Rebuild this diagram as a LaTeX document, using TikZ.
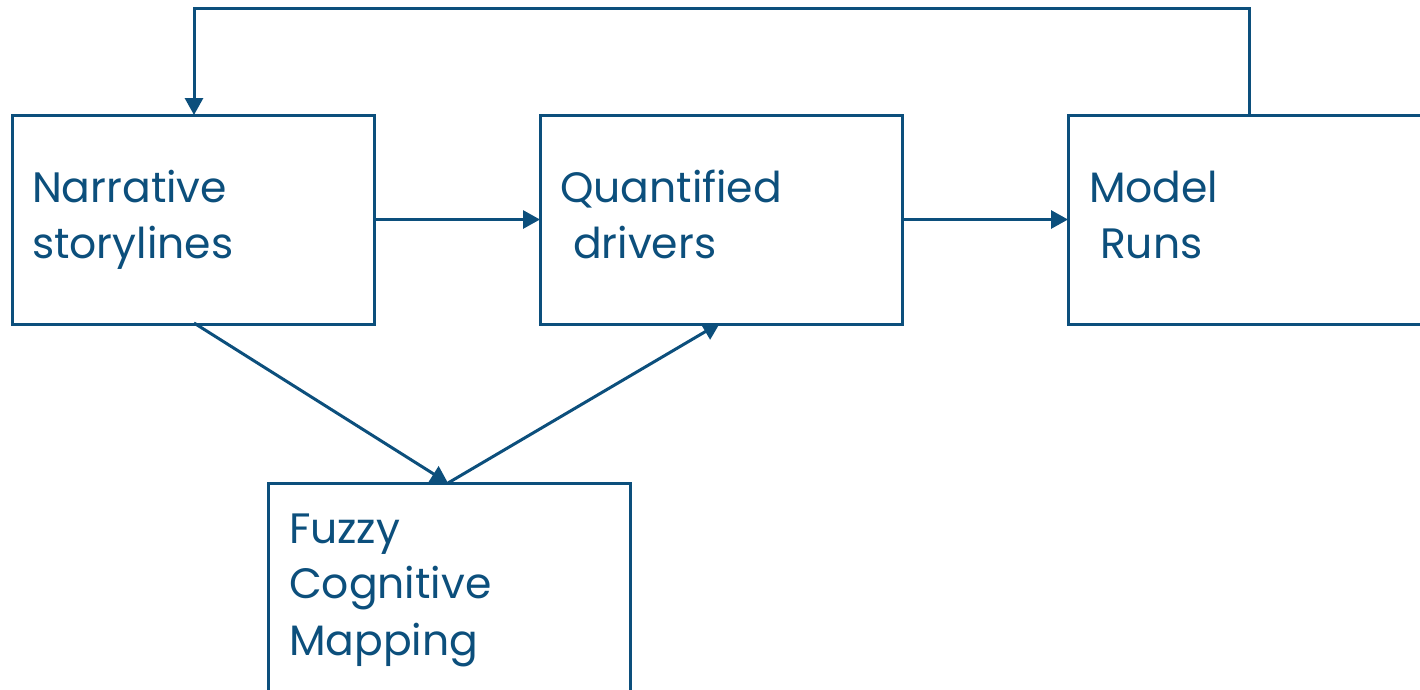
\documentclass[tikz,border=0pt]{standalone}
\usepackage{fontspec}
\setmainfont{Poppins}
\usetikzlibrary{arrows.meta}
\definecolor{dblue}{RGB}{12,79,124}
\begin{document}
\begin{tikzpicture}[x=1pt,y=-1pt,
  box/.style={draw=dblue,line width=3pt,minimum width=362pt,minimum height=209pt,anchor=north west,inner sep=0pt,outer sep=0pt},
  lbl/.style={text=dblue,anchor=base west,inner sep=0pt,outer sep=0pt,font=\fontsize{42.5}{48}\selectfont},
  conn/.style={draw=dblue,line width=3pt,-{Triangle[length=17pt,width=18pt]}}]
\useasboundingbox (0,0) rectangle (1420,689);
\clip (0,0) rectangle (1420,689);
\node[box] (nar) at (12,115) {};
\node[box] (qua) at (540,115) {};
\node[box] (mod) at (1068,115) {};
\node[box] (fuz) at (268,483) {};
\node[lbl] (t1) at (32,202) {Narrative};
\node[lbl] (t2) at (32,258) {storylines};
\node[lbl] (t3) at (560,202) {Quantified};
\node[lbl] (t4) at (573,258) {drivers};
\node[lbl] (t5) at (1089,202) {Model};
\node[lbl] (t6) at (1100,258) {Runs};
\node[lbl] (t7) at (289,543) {Fuzzy};
\node[lbl] (t8) at (289,598) {Cognitive};
\node[lbl] (t9) at (289,655) {Mapping};
\coordinate (nb) at (194,323);
\coordinate (ft) at (448,483);
\coordinate (qb) at (720,323);
\coordinate (c1) at (1249,8);
\coordinate (c2) at (194,8);
\draw[conn] (nar.east) -- (qua.west);
\draw[conn] (qua.east) -- (mod.west);
\draw[conn] (nb) -- (ft);
\draw[conn] (ft) -- (qb);
\draw[conn,line join=miter] (mod.north west -| c1) -- (c1) -- (c2) -- (nar.north west -| c2);
\end{tikzpicture}
\end{document}
